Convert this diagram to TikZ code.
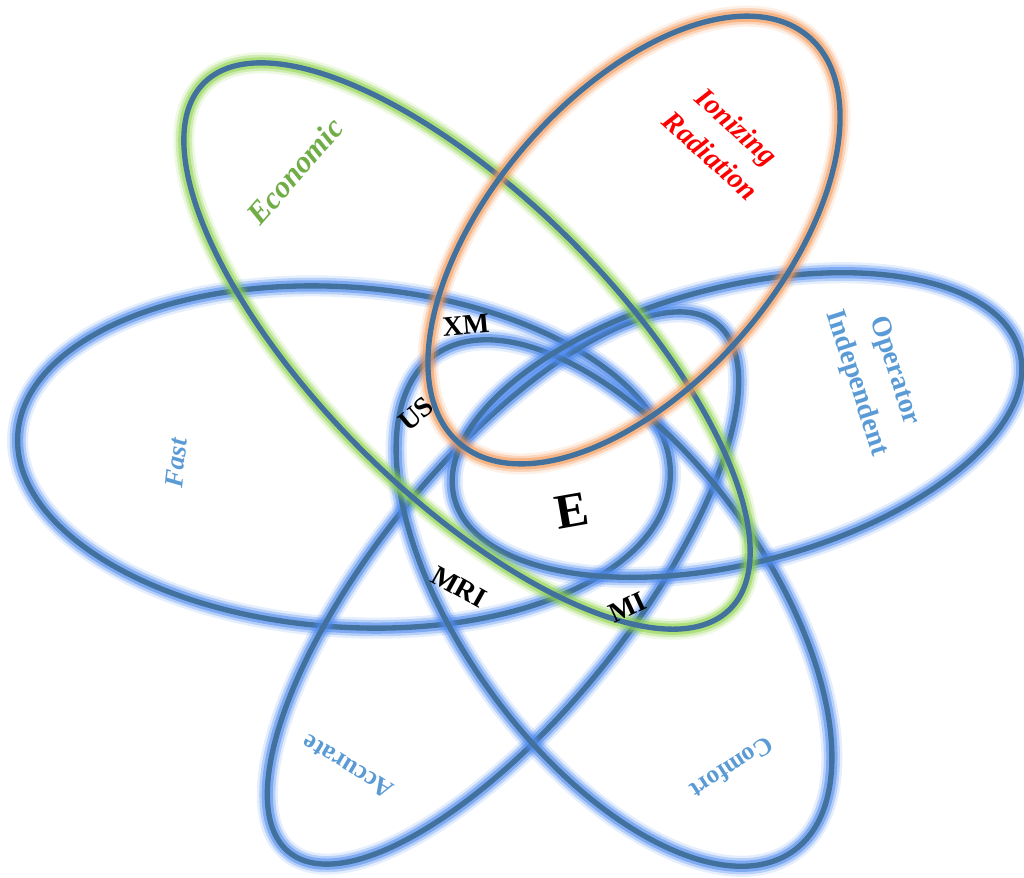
\documentclass[tikz,border=0pt]{standalone}
\usepackage{fontspec}
\setmainfont{Liberation Serif}
\definecolor{ringblue}{HTML}{41719C}
\definecolor{glowblue}{HTML}{4F8BF0}
\definecolor{glowgreen}{HTML}{8FD44A}
\definecolor{gloworange}{HTML}{F49A5A}
\definecolor{labelblue}{HTML}{5B9BD5}
\definecolor{labelgreen}{HTML}{70AD47}

\begin{document}
\begin{tikzpicture}[x=0.025cm,y=-0.025cm,
  ring/.style={
    preaction={draw=#1, line width=15pt, opacity=0.15},
    preaction={draw=#1, line width=11.5pt, opacity=0.3},
    preaction={draw=#1, line width=8pt, opacity=0.55},
    draw=ringblue, line width=3.8pt},
  tag/.style={inner sep=0pt, font=\bfseries\fontsize{#1}{#1}\selectfont},
  petal/.style={inner sep=0pt, align=center, font=\bfseries\itshape\fontsize{#1}{28pt}\selectfont},
  petalup/.style={inner sep=0pt, align=center, font=\bfseries\fontsize{#1}{28.5pt}\selectfont}]
  \useasboundingbox (0,0) rectangle (1024,877);

  % Blue petals
  \draw[ring=glowblue] (344,457) circle[x radius=327, y radius=170, rotate=-4];
  \draw[ring=glowblue] (503,588) circle[x radius=340, y radius=127, rotate=51];
  \draw[ring=glowblue] (614,603) circle[x radius=306, y radius=152, rotate=-54];
  \draw[ring=glowblue] (737,425) circle[x radius=292, y radius=138, rotate=14.5];

  % Economic and radiation petals
  \draw[ring=glowgreen] (467,346) circle[x radius=372, y radius=148, rotate=-45];
  \draw[ring=gloworange] (634,240) circle[x radius=268, y radius=144, rotate=49.3];

  % Petal labels
  \node[petal=22pt, labelgreen, rotate=49] (economic) at (295,171) {Economic};
  \node[petal=20.5pt, red, rotate=-42] (ionizing) at (724,141) {Ionizing\\Radiation};
  \node[petalup=20pt, labelblue, rotate=-72] (operator) at (875,377) {Operator\\Independent};
  \node[petal=19pt, labelblue, rotate=84] (fast) at (176,463) {Fast};
  \node[petalup=18.5pt, labelblue, rotate=149] (accurate) at (348,767) {Accurate};
  \node[petalup=18pt, labelblue, rotate=-147] (comfort) at (732,768) {Comfort};

  % Modality labels
  \node[tag=20pt, rotate=5] (xm) at (466,325) {XM};
  \node[tag=20pt, rotate=40] (us) at (416,414) {US};
  \node[tag=20pt, rotate=-29] (mri) at (459,587) {MRI};
  \node[tag=20pt, rotate=25] (mi) at (628,607) {MI};
  \node[tag=35pt, rotate=10] (e) at (572,511) {E};

\end{tikzpicture}
\end{document}
